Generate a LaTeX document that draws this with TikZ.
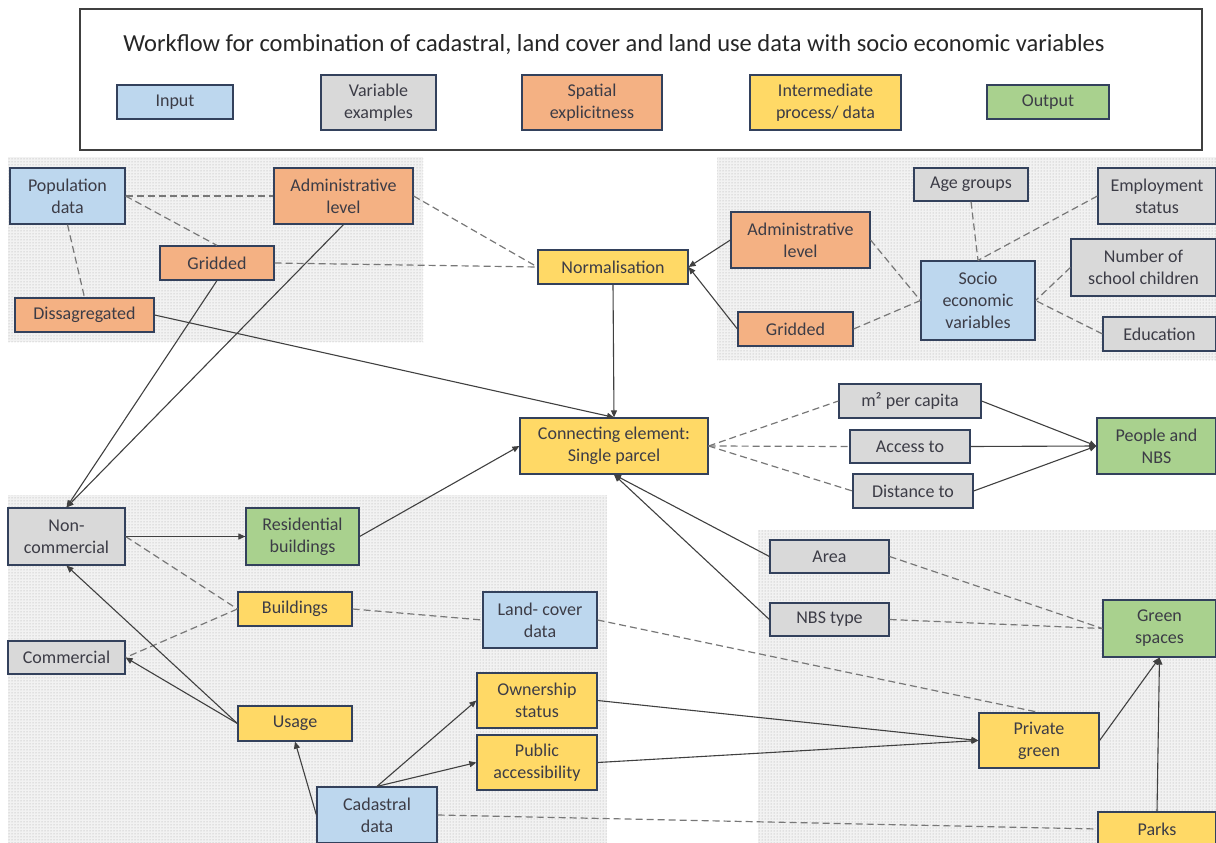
\documentclass[tikz,border=0pt]{standalone}
\usepackage{fontspec}
\setmainfont{Carlito}
\usetikzlibrary{arrows.meta,patterns}
\definecolor{inblue}{HTML}{BDD7EE}
\definecolor{vargray}{HTML}{D9D9D9}
\definecolor{spatorange}{HTML}{F4B183}
\definecolor{procyellow}{HTML}{FFD966}
\definecolor{outgreen}{HTML}{A9D18E}
\definecolor{boxline}{HTML}{33415C}
\definecolor{textgray}{HTML}{3C3C46}
\definecolor{linegray}{HTML}{404040}
\definecolor{dashgray}{HTML}{777777}

\begin{document}
\begin{tikzpicture}[
    x=1pt, y=-1pt,
    box/.style={
        rectangle, draw=boxline, line width=1.2pt, align=center,
        inner sep=0pt, text=textgray, font=\fontsize{18}{22}\selectfont
    },
    wh/.style 2 args={minimum width=#1pt, minimum height=#2pt},
    inp/.style={box, fill=inblue},
    varx/.style={box, fill=vargray},
    spat/.style={box, fill=spatorange},
    inter/.style={box, fill=procyellow},
    outp/.style={box, fill=outgreen},
    flow/.style={-{Triangle[length=7pt,width=6pt]}, line width=1.1pt, linegray},
    link/.style={dash pattern=on 7pt off 4pt, line width=1.2pt, dashgray},
    region/.style={fill=black!5, postaction={pattern=dots, pattern color=gray!70}}
]
\useasboundingbox (0,0) rectangle (1216,843);

% Dotted regions
\path[region] (8,157) rectangle (423,342);
\path[region] (717,157) rectangle (1216,360);
\path[region] (8,495) rectangle (607,843);
\path[region] (758,530) rectangle (1216,843);

% Legend
\draw[line width=1.5pt, linegray] (80,9) rectangle (1202,150);
\node[text=black!85, font=\fontsize{24.5}{28}\selectfont] (title) at (614,45)
    {Workflow for combination of cadastral, land cover and land use data with socio economic variables};
\node[inp, wh={116}{34}] (lgin) at (175,102) {Input};
\node[varx, wh={115}{55}] (lgvar) at (378.5,102.5) {Variable\\examples};
\node[spat, wh={140}{55}] (lgspat) at (592,102.5) {Spatial\\explicitness};
\node[inter, wh={151}{55}] (lginter) at (825.5,102.5) {Intermediate\\process/ data};
\node[outp, wh={122}{34}] (lgout) at (1048,102) {Output};

% Population side
\node[inp, wh={115}{56}] (pop) at (67.5,196) {Population\\data};
\node[spat, wh={139}{56}] (admL) at (343.5,196) {Administrative\\level};
\node[spat, wh={114}{34}] (gridL) at (217,263) {Gridded};
\node[spat, wh={139}{34}] (dis) at (84.5,315) {Dissagregated};
\node[inter, wh={150}{34}] (norm) at (613,267) {Normalisation};

% Socio economic side
\node[spat, wh={139}{56}] (admR) at (800.5,240) {Administrative\\level};
\node[spat, wh={115}{34}] (gridR) at (795.5,329) {Gridded};
\node[inp, wh={114}{79}] (socio) at (978,300.5) {Socio\\economic\\variables};
\node[varx, wh={114}{33}] (age) at (971,184.5) {Age groups};
\node[varx, wh={118}{56}] (emp) at (1157,196) {Employment\\status};
\node[varx, wh={145}{57}] (school) at (1143.5,267.5) {Number of\\school children};
\node[varx, wh={113}{34}] (edu) at (1159.5,334) {Education};

% Parcel and outputs
\node[inter, wh={188}{56}] (conn) at (614,446) {Connecting element:\\Single parcel};
\node[varx, wh={142}{34}] (m2) at (910,401) {m² per capita};
\node[varx, wh={120}{33}] (acc) at (910,446.5) {Access to};
\node[varx, wh={120}{34}] (dist) at (913,491) {Distance to};
\node[outp, wh={119}{56}] (people) at (1156.5,446) {People and\\NBS};

% Buildings
\node[varx, wh={117}{57}] (noncom) at (66.5,536.5) {Non-\\commercial};
\node[outp, wh={113}{57}] (res) at (302.5,536.5) {Residential\\buildings};
\node[inter, wh={114}{34}] (bldg) at (295,609) {Buildings};
\node[inp, wh={114}{56}] (landc) at (540,620) {Land- cover\\data};
\node[varx, wh={117}{33}] (com) at (66.5,657.5) {Commercial};
\node[inter, wh={114}{35}] (usage) at (295,723.5) {Usage};
\node[inter, wh={120}{55}] (own) at (537,700.5) {Ownership\\status};
\node[inter, wh={120}{55}] (pub) at (537,762.5) {Public\\accessibility};
\node[inp, wh={120}{56}] (cad) at (377,815) {Cadastral\\data};

% Green spaces
\node[varx, wh={119}{33}] (area) at (829.5,556.5) {Area};
\node[varx, wh={119}{33}] (nbs) at (829.5,619.5) {NBS type};
\node[outp, wh={113}{57}] (green) at (1159.5,628.5) {Green\\spaces};
\node[inter, wh={120}{55}] (priv) at (1039,740.5) {Private\\green};
\node[inter, wh={118}{34}] (parks) at (1157,829) {Parks};

% Dashed links
\draw[link] (pop.east) -- (admL.west);
\draw[link] (pop.east) -- (gridL.north);
\draw[link] (pop.south) -- (dis.north);
\draw[link] (admL.east) -- (norm.west);
\draw[link] (gridL.east) -- (norm.west);
\draw[link] (admR.east) -- (socio.west);
\draw[link] (gridR.east) -- (socio.west);
\draw[link] (age.south) -- (socio.north);
\draw[link] (emp.west) -- (socio.north);
\draw[link] (school.west) -- (socio.east);
\draw[link] (edu.west) -- (socio.east);
\draw[link] (conn.east) -- (m2.west);
\draw[link] (conn.east) -- (acc.west);
\draw[link] (conn.east) -- (dist.west);
\draw[link] (noncom.east) -- (bldg.west);
\draw[link] (bldg.west) -- (com.east);
\draw[link] (bldg.east) -- (landc.west);
\draw[link] (landc.east) -- (priv.north);
\draw[link] (cad.east) -- (parks.west);
\draw[link] (area.east) -- (green.west);
\draw[link] (nbs.east) -- (green.west);

% Arrows
\draw[flow] (gridL.south) -- (noncom.north);
\draw[flow] (admL.south) -- (noncom.north);
\draw[flow] (dis.east) -- (conn.north);
\draw[flow] (norm.south) -- (conn.north);
\draw[flow] (admR.west) -- (norm.east);
\draw[flow] (gridR.west) -- (norm.east);
\draw[flow] (res.east) -- (conn.west);
\draw[flow] (area.west) -- (conn.south);
\draw[flow] (nbs.west) -- (conn.south);
\draw[flow] (m2.east) -- (people.west);
\draw[flow] (acc.east) -- (people.west);
\draw[flow] (dist.east) -- (people.west);
\draw[flow] (noncom.east) -- (res.west);
\draw[flow] (usage.west) -- (noncom.south);
\draw[flow] (usage.west) -- (com.east);
\draw[flow] (cad.west) -- (usage.south);
\draw[flow] (cad.north) -- (own.west);
\draw[flow] (cad.north) -- (pub.west);
\draw[flow] (own.east) -- (priv.west);
\draw[flow] (pub.east) -- (priv.west);
\draw[flow] (priv.east) -- (green.south);
\draw[flow] (parks.north) -- (green.south);

\end{tikzpicture}
\end{document}
